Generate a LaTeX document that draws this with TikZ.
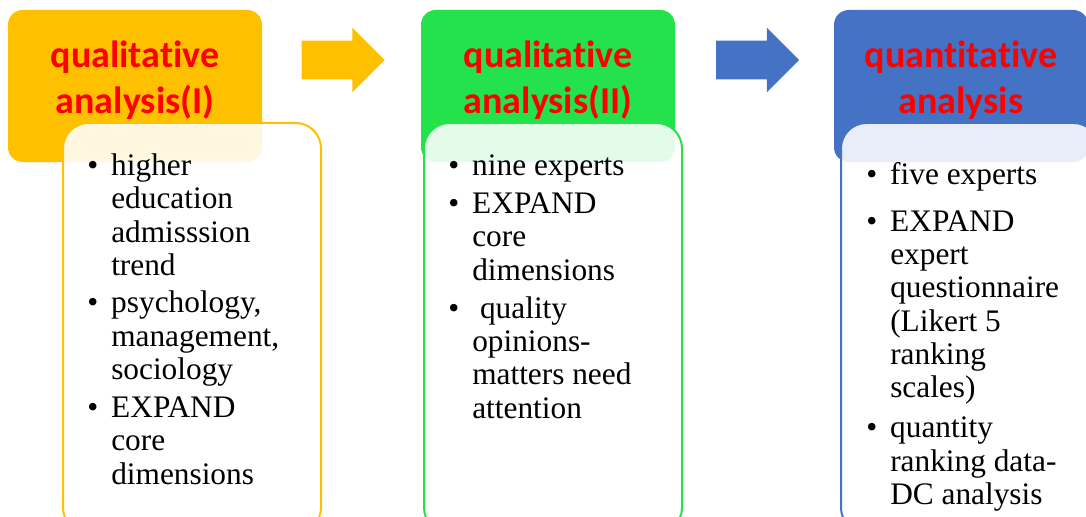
\documentclass[tikz,border=0pt]{standalone}
\usepackage{fontspec}
\setmainfont{Liberation Serif}
\newfontfamily\headfont[Ligatures=NoCommon]{Carlito}
\usepackage{tikz}
\usetikzlibrary{shapes.arrows,positioning}
\definecolor{Gold}{HTML}{FFC000}
\definecolor{Leaf}{HTML}{24E24C}
\definecolor{Ocean}{HTML}{4472C4}
\definecolor{Alert}{HTML}{FF0000}
\newcommand\bul{\makebox[18pt][l]{\textbullet}}

\begin{document}
\begin{tikzpicture}[
  x=0.75pt,y=-0.75pt,
  head/.style={rounded corners=11pt,minimum width=190.5pt,minimum height=114pt,inner sep=0pt},
  headtext/.style={align=center,text=Alert,inner sep=0pt,font=\headfont\bfseries\fontsize{28.5}{35}\selectfont},
  body/.style={draw,line width=1.5pt,fill=white,fill opacity=0.88,rounded corners=19pt,anchor=north west,minimum width=193.5pt,minimum height=307.5pt,inner sep=0pt},
  list/.style={anchor=north west,inner sep=0pt,font=\fontsize{23.5}{25}\selectfont},
  blockarrow/.style={single arrow,minimum height=62.25pt,inner xsep=0pt,inner ysep=14.25pt,single arrow head extend=9.75pt,single arrow tip angle=90}
]
\useasboundingbox (0,0) rectangle (1086,517);
\clip (0,0) rectangle (1086,517);
% stage headers
\node[head,fill=Gold] (h1) at (135,86) {};
\node[head,fill=Leaf] (h2) at (548,86) {};
\node[head,fill=Ocean] (h3) at (961,86) {};
\node[blockarrow,fill=Gold] (arrA) at (333.5,60) {};
\node[blockarrow,fill=Ocean] (arrB) at (748,60) {};
\node[headtext] (t1) at ([yshift=4.5pt]h1.center) {qualitative\\analysis(I)};
\node[headtext] (t2) at ([yshift=4.5pt]h2.center) {qualitative\\analysis(II)};
\node[headtext] (t3) at ([yshift=4.5pt]h3.center) {quantitative\\analysis};
% detail boxes
\node[body,draw=Gold] (b1) at (62,122) {};
\node[body,draw=Leaf] (b2) at (423,122) {};
\node[body,draw=Ocean] (b3) at (840,122) {};
\node[list] (l1) at (87,152) {\begin{tabular}{@{}l@{}l@{}}
\bul & higher\\
 & education\\
 & admisssion\\
 & trend\\[3pt]
\bul & psychology,\\
 & management,\\
 & sociology\\[3.5pt]
\bul & EXPAND\\
 & core\\
 & dimensions
\end{tabular}};
\node[list] (l2) at (448,152) {\begin{tabular}{@{}l@{}l@{}}
\bul & nine experts\\[3.5pt]
\bul & EXPAND\\
 & core\\
 & dimensions\\[3.5pt]
\bul & \ quality\\
 & opinions-\\
 & matters need\\
 & attention
\end{tabular}};
\node[list] (l3) at (866,161) {\begin{tabular}{@{}l@{}l@{}}
\bul & five experts\\[10pt]
\bul & EXPAND\\
 & expert\\
 & questionnaire\\
 & (Likert 5\\
 & ranking\\
 & scales)\\[5pt]
\bul & quantity\\
 & ranking data-\\
 & DC analysis
\end{tabular}};
\end{tikzpicture}
\end{document}
